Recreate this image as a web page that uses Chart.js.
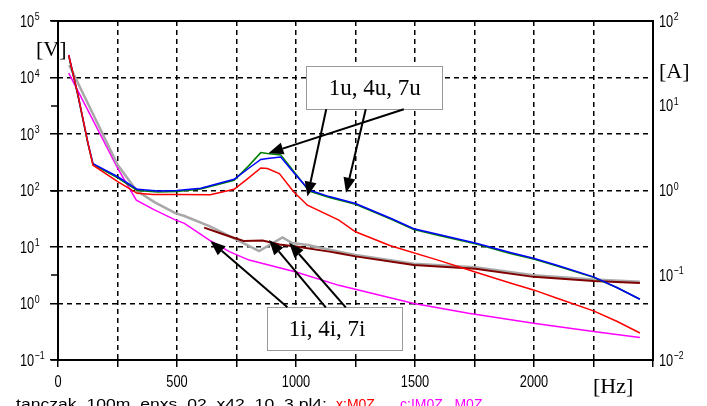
<!DOCTYPE html>
<html>
<head>
<meta charset="utf-8">
<script src="https://cdn.jsdelivr.net/npm/chart.js@4.4.0/dist/chart.umd.min.js"></script>
<style>
  body { margin: 0; background: #fff; }
  #wrap { width: 707px; height: 406px; position: relative; }
</style>
</head>
<body>
<div id="wrap"><canvas id="harm"></canvas></div>
<script>
// voltages [V] (left axis)
var freqU = [45, 84, 126, 147, 251, 333, 420, 500, 600, 740, 800, 852, 880, 936, 990, 1055, 1140, 1250, 1400, 1495, 1600, 1753, 1900, 1998, 2100, 2250, 2350, 2445];
var volt7u = [25000, 4900, 690, 300, 175, 105, 98, 100, 110, 158, 245, 355, 370, 390, 209, 102, 78, 59, 32, 21, 16.6, 11.8, 8.0, 6.3, 4.7, 2.96, 1.9, 1.19];
var volt4u = [24000, 4700, 660, 290, 168, 100, 94, 96, 106, 152, 270, 468, 450, 427, 220, 98, 75, 57, 31, 20.3, 16, 11.4, 7.7, 6.1, 4.55, 2.9, 1.9, 1.19];
var freq1u = [45, 84, 126, 147, 251, 333, 400, 500, 640, 740, 800, 852, 880, 930, 990, 1048, 1180, 1250, 1397, 1600, 1753, 1900, 1998, 2100, 2250, 2350, 2445];
var volt1u = [25000, 4900, 690, 280, 144, 89, 85, 85, 84, 105, 166, 250, 245, 200, 95, 55, 30, 18.6, 10.5, 5.8, 3.6, 2.3, 1.74, 1.23, 0.74, 0.48, 0.30];

// currents [A] (right axis)
var freqGray = [47, 251, 330, 405, 493, 531, 636, 700, 754, 845, 943, 984, 1050, 1180, 1250, 1495, 1753, 1998, 2250, 2445];
var curGray = [30.2, 2.0, 1.0, 0.73, 0.54, 0.50, 0.38, 0.31, 0.26, 0.193, 0.28, 0.24, 0.227, 0.189, 0.173, 0.137, 0.124, 0.0997, 0.089, 0.084];
var freqBrown = [614, 700, 780, 860, 930, 1000, 1140, 1180, 1250, 1495, 1753, 1998, 2250, 2445];
var curBrown = [0.365, 0.30, 0.254, 0.257, 0.23, 0.218, 0.19, 0.182, 0.167, 0.132, 0.119, 0.0957, 0.0855, 0.081];
var freqMag = [45, 168, 251, 329, 405, 493, 531, 636, 720, 803, 1000, 1180, 1495, 1725, 1998, 2250, 2445];
var curMag = [24.3, 5.2, 1.82, 0.77, 0.59, 0.45, 0.41, 0.26, 0.19, 0.151, 0.109, 0.076, 0.0464, 0.0356, 0.0272, 0.0217, 0.0184];

// tick labels
var freqTicks = [0, 500, 1000, 1500, 2000];
var voltExp = [5, 4, 3, 2, 1, 0, -1];
var ampExp = [2, 1, 0, -1, -2];

// call-outs, anchored in [Hz] / [V]
var uBox = {f1: 1042, f2: 1612, v1: 15850, v2: 2750, text: '1u, 4u, 7u'};
var uArrows = [[1453, 2750, 884, 457], [1127, 2750, 1048, 78], [1293, 2750, 1210, 91]];
var iBox = {f1: 880, f2: 1449, v1: 0.857, v2: 0.146, text: '1i, 4i, 7i'};
var iArrows = [[964, 0.857, 640, 12.8], [1125, 0.857, 887, 13.3], [1209, 0.857, 971, 11.9]];

function pts(fs, vs) {
  return fs.map(function(f, i) { return {x: f, y: vs[i]}; });
}
function decades(lo, hi) {
  var t = [];
  for (var e = lo; e <= hi; e++) t.push({value: Math.pow(10, e)});
  return t;
}

function power10(ctx, x, y, exp) {
  ctx.save();
  ctx.translate(x, y);
  ctx.scale(0.8, 1);
  ctx.fillStyle = '#000';
  ctx.textAlign = 'left';
  ctx.textBaseline = 'alphabetic';
  ctx.font = '16px "Liberation Sans", Arial, sans-serif';
  ctx.fillText('10', 0, 5.5);
  var w = ctx.measureText('10').width;
  ctx.font = '11px "Liberation Sans", Arial, sans-serif';
  ctx.fillText(String(exp).replace('-', '\u2212'), w + 0.5, -1);
  ctx.restore();
}

function arrow(ctx, x1, y1, x2, y2) {
  var a = Math.atan2(y2 - y1, x2 - x1), len = 15, hw = 6;
  var bx = x2 - len * Math.cos(a), by = y2 - len * Math.sin(a);
  ctx.beginPath();
  ctx.moveTo(x1, y1);
  ctx.lineTo(bx, by);
  ctx.stroke();
  ctx.beginPath();
  ctx.moveTo(x2, y2);
  ctx.lineTo(bx + hw * Math.sin(a), by - hw * Math.cos(a));
  ctx.lineTo(bx - hw * Math.sin(a), by + hw * Math.cos(a));
  ctx.closePath();
  ctx.fill();
}

function callout(ctx, sx, sy, box, arrows, dx) {
  var x1 = sx.getPixelForValue(box.f1), x2 = sx.getPixelForValue(box.f2);
  var y1 = sy.getPixelForValue(box.v1), y2 = sy.getPixelForValue(box.v2);
  ctx.fillStyle = '#fff';
  ctx.fillRect(x1, y1, x2 - x1, y2 - y1);
  ctx.strokeStyle = '#999';
  ctx.lineWidth = 1;
  ctx.strokeRect(Math.round(x1) + 0.5, Math.round(y1) + 0.5, Math.round(x2 - x1), Math.round(y2 - y1));
  ctx.fillStyle = '#000';
  ctx.font = '23px "Liberation Serif", "Times New Roman", serif';
  ctx.textAlign = 'center';
  ctx.textBaseline = 'middle';
  ctx.fillText(box.text, (x1 + x2) / 2 + dx, (y1 + y2) / 2 + 1);
  ctx.strokeStyle = '#000';
  ctx.lineWidth = 2;
  arrows.forEach(function(a) {
    arrow(ctx, sx.getPixelForValue(a[0]), sy.getPixelForValue(a[1]),
               sx.getPixelForValue(a[2]), sy.getPixelForValue(a[3]));
  });
}

var decor = {
  id: 'decor',
  afterDraw: function(chart) {
    var ctx = chart.ctx, ca = chart.chartArea;
    var sx = chart.scales.x, sy = chart.scales.y, sa = chart.scales.y2;
    ctx.save();

    // call-outs
    callout(ctx, sx, sy, uBox, uArrows, 1);
    callout(ctx, sx, sy, iBox, iArrows, -8);

    // frame
    ctx.strokeStyle = '#000';
    ctx.lineWidth = 2;
    ctx.setLineDash([]);
    ctx.strokeRect(ca.left, ca.top, ca.right - ca.left, ca.bottom - ca.top);

    // short marks of the current axis on the left side
    ctx.lineWidth = 1.5;
    ampExp.forEach(function(e) {
      var y = Math.round(sa.getPixelForValue(Math.pow(10, e)));
      ctx.beginPath();
      ctx.moveTo(ca.left - 7, y);
      ctx.lineTo(ca.left, y);
      ctx.stroke();
    });

    // tick labels
    voltExp.forEach(function(e) {
      power10(ctx, 20, sy.getPixelForValue(Math.pow(10, e)), e);
    });
    ampExp.forEach(function(e) {
      power10(ctx, ca.right + 6, sa.getPixelForValue(Math.pow(10, e)), e);
    });
    freqTicks.forEach(function(f) {
      var x = sx.getPixelForValue(f);
      ctx.save();
      ctx.translate(x, 387);
      ctx.scale(0.8, 1);
      ctx.font = '16px "Liberation Sans", Arial, sans-serif';
      ctx.textAlign = 'center';
      ctx.textBaseline = 'alphabetic';
      ctx.fillStyle = '#000';
      ctx.fillText(String(f), 0, 0);
      ctx.restore();
    });

    // units
    ctx.fillStyle = '#000';
    ctx.textAlign = 'left';
    ctx.textBaseline = 'alphabetic';
    ctx.font = '22px "Liberation Serif", "Times New Roman", serif';
    ctx.fillText('[V]', 36, 56);
    ctx.fillText('[A]', 659, 78);
    ctx.fillText('[Hz]', 593, 393);

    // file caption, cut by the bottom edge
    ctx.font = '14px "Liberation Sans", Arial, sans-serif';
    var cap = 'tanczak_100m_enxs_02_x42_10_3.pl4:';
    var cw = ctx.measureText(cap).width;
    ctx.save();
    ctx.translate(16, 409);
    ctx.scale(311 / cw, 1);
    ctx.fillText(cap, 0, 0);
    ctx.restore();
    ctx.fillStyle = '#ff0000';
    ctx.fillText('x:M0Z', 336, 409);
    ctx.fillStyle = '#ff00ff';
    ctx.fillText('c:IM0Z   M0Z', 400, 409);

    ctx.restore();
  }
};

new Chart(document.getElementById('harm'), {
  type: 'line',
  data: {
    datasets: [
      {label: '7u', data: pts(freqU, volt7u), borderColor: '#0000ff', yAxisID: 'y', order: 2},
      {label: '4u', data: pts(freqU, volt4u), borderColor: '#008000', yAxisID: 'y', order: 3},
      {label: '1u', data: pts(freq1u, volt1u), borderColor: '#ff0000', yAxisID: 'y', order: 1},
      {label: '4i', data: pts(freqBrown, curBrown), borderColor: '#800000', borderWidth: 2, yAxisID: 'y2', order: 4},
      {label: '1i', data: pts(freqGray, curGray), borderColor: '#a8a8a8', borderWidth: 2.5, yAxisID: 'y2', order: 5},
      {label: '7i', data: pts(freqMag, curMag), borderColor: '#ff00ff', yAxisID: 'y2', order: 6}
    ]
  },
  options: {
    responsive: true,
    maintainAspectRatio: false,
    animation: false,
    layout: {padding: {top: 21, left: 0, right: 0, bottom: 0}},
    elements: {
      point: {radius: 0},
      line: {borderWidth: 1.5, tension: 0, fill: false}
    },
    plugins: {legend: {display: false}, tooltip: {enabled: false}},
    scales: {
      x: {
        type: 'linear', min: 0, max: 2500,
        ticks: {display: false, stepSize: 250},
        grid: {color: '#000', lineWidth: 1.5, tickLength: 7, tickColor: '#000', tickWidth: 1.5},
        border: {display: false, dash: [5, 4]},
        afterFit: function(s) { s.height = 46; }
      },
      y: {
        type: 'logarithmic', position: 'left', min: 0.1, max: 100000,
        ticks: {display: false},
        afterBuildTicks: function(s) { s.ticks = decades(-1, 5); },
        grid: {color: '#000', lineWidth: 1.5, tickLength: 8, tickColor: '#000', tickWidth: 1.5},
        border: {display: false, dash: [5, 4]},
        afterFit: function(s) { s.width = 58; }
      },
      y2: {
        type: 'logarithmic', position: 'right', min: 0.01, max: 100,
        ticks: {display: false},
        afterBuildTicks: function(s) { s.ticks = decades(-2, 2); },
        grid: {display: false},
        border: {display: false},
        afterFit: function(s) { s.width = 54; }
      }
    }
  },
  plugins: [decor]
});
</script>
</body>
</html>
